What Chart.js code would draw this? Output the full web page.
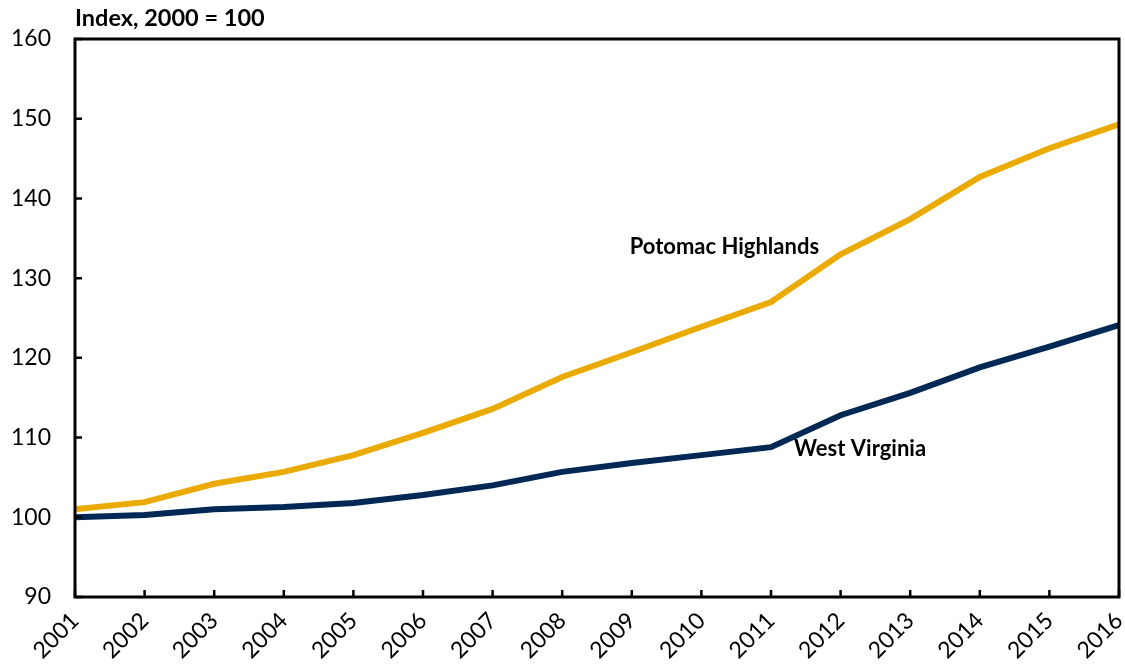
<!DOCTYPE html>
<html>
<head>
<meta charset="utf-8">
<script src="https://cdn.jsdelivr.net/npm/chart.js@4.4.1/dist/chart.umd.min.js"></script>
<style>
  html, body { margin: 0; padding: 0; background: #fff; }
  #wrap { width: 1125px; height: 671px; position: relative; }
</style>
</head>
<body>
<div id="wrap"><canvas id="c" width="1125" height="671"></canvas></div>
<script>
const years = ['2001','2002','2003','2004','2005','2006','2007','2008','2009','2010','2011','2012','2013','2014','2015','2016'];
const potomacHighlands = [101.0, 101.9, 104.2, 105.7, 107.8, 110.6, 113.6, 117.6, 120.7, 123.9, 127.0, 133.0, 137.4, 142.7, 146.3, 149.3];
const westVirginia = [100.0, 100.3, 101.0, 101.3, 101.8, 102.8, 104.0, 105.7, 106.8, 107.8, 108.8, 112.8, 115.6, 118.8, 121.4, 124.1];
const yTicks = [90, 100, 110, 120, 130, 140, 150, 160];
const seriesLabels = [
  { text: 'Potomac Highlands', x: 9.33, y: 133.9 },
  { text: 'West Virginia', x: 11.28, y: 108.6 }
];
const titleText = 'Index, 2000 = 100';

const FONT = 'Lato, "Open Sans", "DejaVu Sans", sans-serif';

const framePlugin = {
  id: 'frame',
  afterDraw(chart) {
    const { ctx, chartArea: a, scales } = chart;
    ctx.save();
    ctx.strokeStyle = '#000';
    ctx.lineWidth = 3;
    ctx.strokeRect(a.left, a.top, a.right - a.left, a.bottom - a.top);
    ctx.lineWidth = 2.5;
    ctx.beginPath();
    scales.x.ticks.forEach((t, i) => {
      const px = scales.x.getPixelForTick(i);
      ctx.moveTo(px, a.bottom);
      ctx.lineTo(px, a.bottom - 7);
    });
    scales.y.ticks.forEach((t, i) => {
      const py = scales.y.getPixelForTick(i);
      ctx.moveTo(a.left, py);
      ctx.lineTo(a.left + 7, py);
    });
    ctx.stroke();
    // series labels
    ctx.fillStyle = '#000';
    ctx.font = 'bold 22px ' + FONT;
    ctx.textAlign = 'center';
    ctx.textBaseline = 'middle';
    seriesLabels.forEach(l => {
      ctx.fillText(l.text, scales.x.getPixelForValue(l.x), scales.y.getPixelForValue(l.y));
    });
    // title
    ctx.font = 'bold 23.5px ' + FONT;
    ctx.textAlign = 'left';
    ctx.textBaseline = 'middle';
    ctx.fillText(titleText, a.left, 18);
    ctx.restore();
  }
};

new Chart(document.getElementById('c'), {
  type: 'line',
  data: {
    labels: years,
    datasets: [
      { label: 'Potomac Highlands', data: potomacHighlands, borderColor: '#EAAA00', borderWidth: 6, pointRadius: 0, tension: 0, clip: false },
      { label: 'West Virginia', data: westVirginia, borderColor: '#002855', borderWidth: 6, pointRadius: 0, tension: 0, clip: false }
    ]
  },
  options: {
    responsive: false,
    animation: false,
    layout: { padding: { left: 0, right: 6, top: 39, bottom: 0 } },
    plugins: { legend: { display: false }, tooltip: { enabled: false } },
    scales: {
      x: {
        offset: false,
        grid: { display: false, drawTicks: false },
        border: { display: false },
        ticks: { color: '#000', font: { family: FONT, size: 23 }, minRotation: 45, maxRotation: 45, padding: 10, autoSkip: false },
        afterFit(s) { s.height = 74; s.paddingRight = 0; s.paddingLeft = 0; }
      },
      y: {
        min: 90, max: 160,
        afterBuildTicks(s) { s.ticks = yTicks.map(v => ({ value: v })); },
        grid: { display: false, drawTicks: false },
        border: { display: false },
        ticks: { color: '#000', font: { family: FONT, size: 23 }, padding: 24 },
        afterFit(s) { s.width = 75; }
      }
    }
  },
  plugins: [framePlugin]
});
</script>
</body>
</html>
